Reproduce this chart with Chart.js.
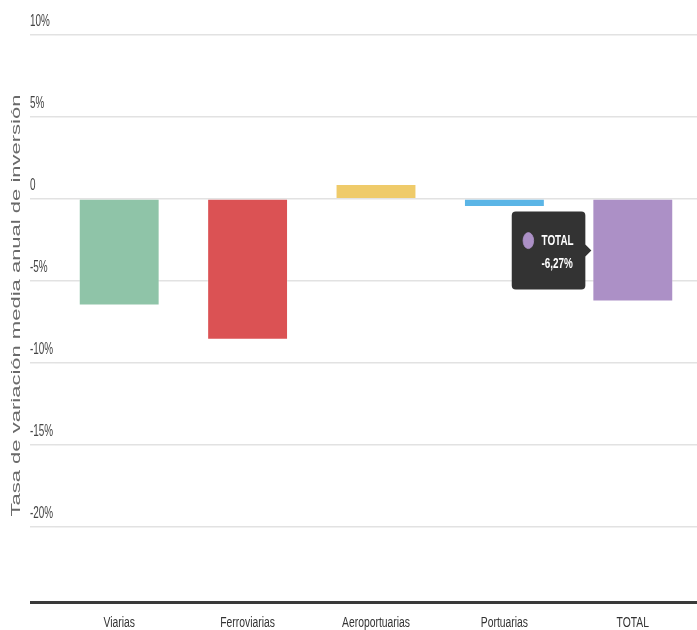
<!DOCTYPE html>
<html>
<head>
<meta charset="utf-8">
<script src="https://cdn.jsdelivr.net/npm/chart.js@4.4.1/dist/chart.umd.min.js"></script>
<style>
  html, body { margin: 0; padding: 0; background: #ffffff; }
  #wrap { position: relative; width: 697px; height: 630px; }
</style>
</head>
<body>
<div id="wrap"><canvas id="c"></canvas></div>
<script>
// ---- Data ----
const categories = ['Viarias', 'Ferroviarias', 'Aeroportuarias', 'Portuarias', 'TOTAL'];
const values = [-6.5, -8.6, 0.91, -0.49, -6.27];
const barColors = ['#8FC4A8', '#DB5254', '#EFCB6A', '#5BB5E6', '#AC90C6'];
const yTickValues = [-20, -15, -10, -5, 0, 5, 10];
const yMin = -24.6;
const yMax = 10;
const yTitle = 'Tasa de variación media anual de inversión';
const activeIndex = 4;

const sans = '"Liberation Sans", Arial, sans-serif';
// horizontal condensation factors (the reference uses a narrow face)
const X_SX = 0.74, Y_SX = 0.62, T_SX = 0.55, TT_SX = 0.66;
const TT_PAD_L = 10;

Chart.Tooltip.positioners.barLeft = function (items) {
  if (!items.length) return false;
  const el = items[0].element;
  const p = el.getProps(['x', 'y', 'base', 'width'], true);
  return { x: p.x - p.width / 2, y: (p.y + p.base) / 2 };
};

function condenseLabels(scale, sx) {
  const orig = scale.drawLabels;
  scale._computeLabelArea = function () { return undefined; };
  scale.drawLabels = function (area) {
    const items = this.getLabelItems(area);
    const saved = items.map(it => it.options.translation);
    items.forEach(it => {
      const t = it.options.translation;
      it.options.translation = [t[0] / sx, t[1]];
    });
    const c = this.ctx;
    c.save();
    c.scale(sx, 1);
    try { orig.call(this, area); }
    finally {
      c.restore();
      items.forEach((it, i) => { it.options.translation = saved[i]; });
    }
  };
}

const narrowText = {
  id: 'narrowText',
  afterLayout(chart) {
    const x = chart.scales.x, y = chart.scales.y;
    if (x && !x._cond) { condenseLabels(x, X_SX); x._cond = true; }
    if (y && !y._cond) {
      condenseLabels(y, Y_SX);
      const origTitle = y.drawTitle;
      y.drawTitle = function () {
        const c = this.ctx;
        c.save();
        c.translate(0, -13);
        c.scale(T_SX, 1);
        try { origTitle.call(this); } finally { c.restore(); }
      };
      y._cond = true;
    }
  },
  beforeDraw(chart) {
    const tt = chart.tooltip;
    if (tt && !tt._cond) {
      const orig = tt.drawBody;
      tt.drawBody = function (pt, ctx, options) {
        const x0 = this.x;
        this.x = (x0 + TT_PAD_L) / TT_SX - TT_PAD_L;
        ctx.save();
        ctx.scale(TT_SX, 1);
        try { orig.call(this, pt, ctx, options); }
        finally { ctx.restore(); this.x = x0; }
      };
      tt._cond = true;
    }
  }
};

const fmt = v => v.toFixed(2).replace('.', ',') + '%';

const chart = new Chart(document.getElementById('c'), {
  type: 'bar',
  data: {
    labels: categories,
    datasets: [{
      data: values,
      backgroundColor: barColors,
      borderColor: 'rgba(255,255,255,0.3)',
      borderWidth: 1,
      barPercentage: 0.63,
      categoryPercentage: 1
    }]
  },
  plugins: [narrowText],
  options: {
    responsive: true,
    maintainAspectRatio: false,
    animation: false,
    events: [],
    layout: { padding: { top: 35, right: 0, bottom: 0, left: 0 } },
    plugins: {
      legend: { display: false },
      tooltip: {
        enabled: true,
        position: 'barLeft',
        xAlign: 'right',
        yAlign: 'center',
        backgroundColor: '#333333',
        cornerRadius: 4,
        caretSize: 6,
        caretPadding: 1,
        padding: { top: 20, bottom: 17, left: TT_PAD_L, right: -15 },
        displayColors: true,
        usePointStyle: true,
        boxWidth: 20,
        boxHeight: 16,
        boxPadding: 8,
        multiKeyBackground: '#333333',
        bodyFont: { family: sans, size: 15, weight: 'bold', lineHeight: 1.2 },
        bodyColor: '#ffffff',
        bodySpacing: 5,
        callbacks: {
          title: () => '',
          label: ctx => [ctx.label, fmt(ctx.parsed.y)],
          labelColor: ctx => ({ backgroundColor: barColors[ctx.dataIndex], borderColor: barColors[ctx.dataIndex], borderWidth: 0 }),
          labelPointStyle: () => ({ pointStyle: 'circle', rotation: 0 })
        }
      }
    },
    scales: {
      x: {
        grid: { display: false, drawTicks: false },
        border: { display: false },
        ticks: {
          color: '#333333',
          font: { family: sans, size: 14 },
          padding: 13,
          maxRotation: 0,
          autoSkip: false
        },
        afterFit: s => { s.height = 28; }
      },
      y: {
        min: yMin,
        max: yMax,
        afterBuildTicks: s => {
          s.ticks = [yMin].concat(yTickValues).map(v => ({ value: v }));
        },
        afterFit: s => { s.width = 55; },
        border: { display: false },
        grid: {
          drawTicks: true,
          tickLength: 25,
          color: c => (c.tick && c.tick.value === yMin) ? '#3a3a3a' : '#e2e2e2',
          lineWidth: c => (c.tick && c.tick.value === yMin) ? 3 : 1.5
        },
        ticks: {
          mirror: true,
          padding: -25,
          labelOffset: -13.5,
          color: '#444444',
          font: { family: sans, size: 16 },
          callback: v => (v === yMin ? '' : (v === 0 ? '0' : v + '%'))
        },
        title: {
          display: true,
          text: yTitle,
          color: '#6a6a6a',
          font: { family: sans, size: 22 },
          padding: { top: 18, bottom: 0 }
        }
      }
    }
  }
});

chart.tooltip.setActiveElements([{ datasetIndex: 0, index: activeIndex }], { x: 0, y: 0 });
chart.update();
</script>
</body>
</html>
